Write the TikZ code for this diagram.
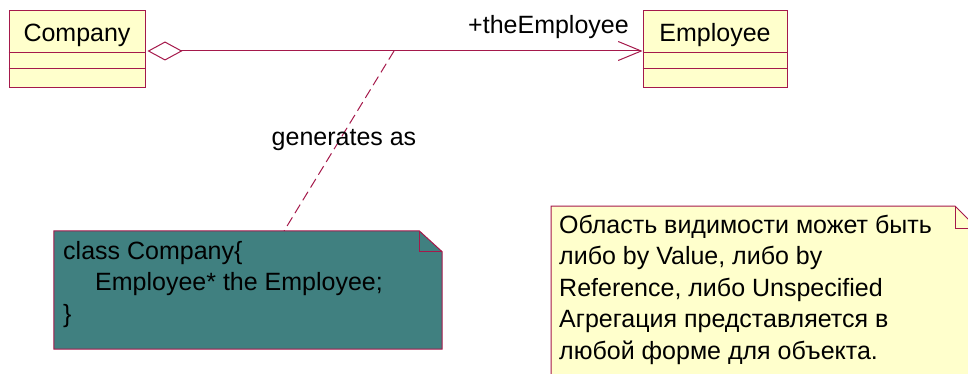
\documentclass[tikz,border=0pt]{standalone}
\usepackage{fontspec}
\setmainfont{Liberation Sans}
\usetikzlibrary{arrows.meta}
\definecolor{umlborder}{RGB}{165,25,75}
\definecolor{classfill}{RGB}{255,255,204}
\definecolor{notefill}{RGB}{255,255,204}
\definecolor{codefill}{RGB}{64,128,128}
\tikzset{
  classbox/.style={draw=umlborder, fill=classfill, line width=1pt, inner sep=0pt, minimum width=136pt, minimum height=77pt},
  umltext/.style={font=\fontsize{25}{31.5}\selectfont, inner sep=0pt, anchor=base},
  linetext/.style={font=\fontsize{25}{31.5}\selectfont, inner sep=0pt, anchor=base west},
  assoc/.style={draw=umlborder, line width=1pt},
  notedash/.style={draw=umlborder, line width=1pt, dash pattern=on 10pt off 5pt},
  noteborder/.style={draw=umlborder, line width=1pt}
}
\begin{document}
\begin{tikzpicture}[x=1pt,y=-1pt]
\fill[white] (0,0) rectangle (968,374);
\useasboundingbox (0,0) rectangle (968,374);

% classes
\node[classbox] (company) at (77,49.5) {};
\draw[noteborder] (company.west |- 0,53) -- (company.east |- 0,53);
\draw[noteborder] (company.west |- 0,69) -- (company.east |- 0,69);
\node[umltext] (companyname) at (77,42) {Company};

\node[classbox, minimum width=144pt] (employee) at (715,49.5) {};
\draw[noteborder] (employee.west |- 0,53) -- (employee.east |- 0,53);
\draw[noteborder] (employee.west |- 0,69) -- (employee.east |- 0,69);
\node[umltext] (employeename) at (715,42) {Employee};

% aggregation
\draw[assoc, {Diamond[open,length=35pt,width=19pt]}-{Straight Barb[length=23pt,width=19pt]}]
  ([xshift=2pt]company.east |- 0,51) -- (employee.west |- 0,51);
\node[umltext] (rolename) at (548.5,34) {+theEmployee};
\coordinate (anc) at (394,51);

% code note
\node[minimum width=388pt, minimum height=118pt, inner sep=0pt] (codenote) at (248,290) {};
\filldraw[noteborder, fill=codefill]
  (codenote.north west) -- ([xshift=-23pt]codenote.north east)
  -- ([yshift=-21pt]codenote.north east) -- (codenote.south east)
  -- (codenote.south west) -- cycle;
\draw[noteborder] ([xshift=-23pt]codenote.north east) -- ([xshift=-23pt,yshift=-21pt]codenote.north east)
  -- ([yshift=-21pt]codenote.north east);
\node[linetext] (code1) at (63,259) {class Company\{};
\node[linetext] (code2) at (95,290.5) {Employee* the Employee;};
\node[linetext] (code3) at (63,322) {\}};

% dashed anchor
\draw[notedash] (anc) -- (codenote);
\node[umltext] (gen) at (344,146) {generates as};

% yellow note
\begin{scope}
\clip (0,0) rectangle (968,374);
\filldraw[noteborder, fill=notefill]
  (551,206) -- (955,206) -- (977,228) -- (977,390) -- (551,390) -- cycle;
\draw[noteborder] (955,206) -- (955,228) -- (977,228);
\end{scope}
\node[linetext] (n1) at (559,233) {Область видимости может быть};
\node[linetext] (n2) at (559,264.5) {либо by Value, либо by};
\node[linetext] (n3) at (559,296) {Reference, либо Unspecified};
\node[linetext] (n4) at (559,327.5) {Агрегация представляется в};
\node[linetext] (n5) at (559,359) {любой форме для объекта.};
\end{tikzpicture}
\end{document}
